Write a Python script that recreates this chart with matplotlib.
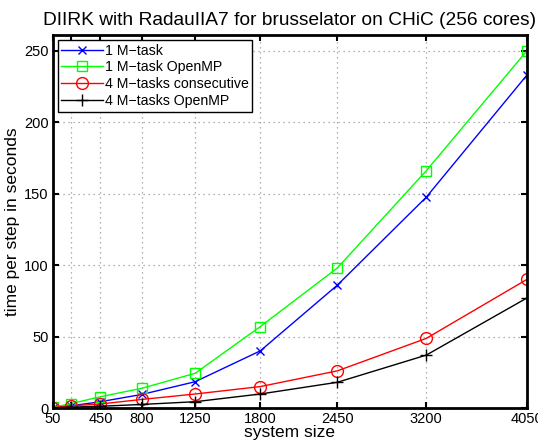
import matplotlib
matplotlib.use("Agg")
import matplotlib.pyplot as plt

plt.rcParams['font.family'] = ['Liberation Sans', 'DejaVu Sans']

# system sizes
sizes = [50, 200, 450, 800, 1250, 1800, 2450, 3200, 4050]
tick_labels = ['50', '', '450', '800', '1250', '1800', '2450', '3200', '4050']

# time per step in seconds
one_task = [0.3, 1.5, 4.4, 9.5, 18.4, 40, 86, 147.5, 233]
one_task_omp = [0.5, 3.0, 7.9, 13.8, 24.3, 57, 98, 166, 250]
four_cons = [0.3, 1.5, 2.8, 6.0, 9.8, 15, 26, 48.7, 90]
four_omp = [0.1, 0.6, 1.2, 2.5, 4.4, 9.8, 18, 37, 77]

fig = plt.figure(figsize=(5.38, 4.46), dpi=100)
ax = fig.add_axes([0.0985, 0.0852, 0.881, 0.8363])

ax.plot(sizes, one_task, color='#0000ff', marker='x', ms=6, mew=1, lw=1,
        label='1 M\u2212task')
ax.plot(sizes, one_task_omp, color='#00ff00', marker='s', ms=6.5, mew=1, lw=1,
        mfc='none', label='1 M\u2212task OpenMP')
ax.plot(sizes, four_cons, color='#ff0000', marker='o', ms=8.5, mew=1, lw=1,
        mfc='none', label='4 M\u2212tasks consecutive')
ax.plot(sizes, four_omp, color='black', marker='+', ms=9, mew=1, lw=1,
        label='4 M\u2212tasks OpenMP')

ax.set_xlim(50, 4050)
ax.set_ylim(0, 261)
ax.set_xticks(sizes)
ax.set_xticklabels(tick_labels)
ax.set_yticks([0, 50, 100, 150, 200, 250])

ax.grid(True, linestyle=(0, (1, 3)), color='#999999', lw=0.9)
ax.tick_params(direction='in', top=True, right=True, length=4, width=1.5,
               labelsize=10.5, pad=3)
for s in ax.spines.values():
    s.set_linewidth(2)

ax.set_xlabel('system size', fontsize=12.5, labelpad=-1)
ax.set_ylabel('time per step in seconds', fontsize=12.5, labelpad=3)
ax.set_title('DIIRK with RadauIIA7 for brusselator on CHiC (256 cores)',
             fontsize=13.8, pad=7)

leg = ax.legend(loc='upper left', fontsize=10.2, fancybox=False, framealpha=1,
                edgecolor='black', borderpad=0.25, labelspacing=0.2,
                handlelength=2.9, handletextpad=0.15, borderaxespad=0.35)
leg.get_frame().set_linewidth(1)

fig.savefig('out.png', dpi=100)
